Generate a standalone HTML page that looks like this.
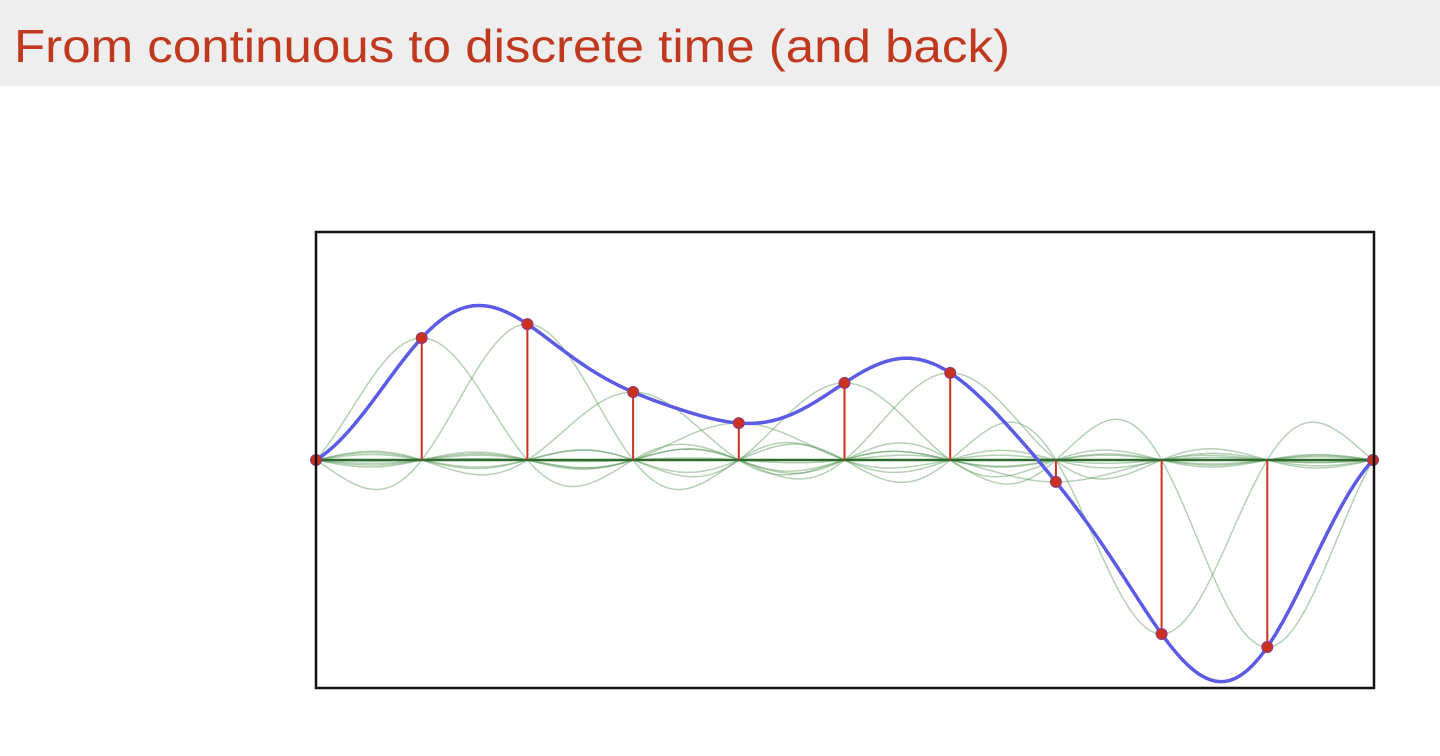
<!DOCTYPE html>
<html><head><meta charset="utf-8"><style>
html,body{margin:0;padding:0;background:#fff;width:1440px;height:756px;overflow:hidden}
</style></head><body>
<svg id="chart" width="1440" height="756" xmlns="http://www.w3.org/2000/svg">
<rect x="0" y="0" width="1440" height="86" fill="#eeeeee"/>
<text x="14" y="62" font-family="Liberation Sans, sans-serif" font-size="46" fill="#c0391f" textLength="996" lengthAdjust="spacingAndGlyphs">From continuous to discrete time (and back)</text>
<g id="plot"></g>
<rect x="316" y="232" width="1058" height="456" fill="none" stroke="#111" stroke-width="2.5"/>
</svg>
<script>
const sampleIndex = [0,1,2,3,4,5,6,7,8,9,10];
const sampleValues = [0, 0.535, 0.596, 0.298, 0.162, 0.338, 0.382, -0.096, -0.763, -0.820, 0];

const X0 = 316, X1 = 1373, Y0 = 460, YU = 228;
const N = sampleIndex.length - 1;
function xs(t){ return X0 + (X1 - X0) * t / N; }
function ys(v){ return Y0 - v * YU; }
function sinc(x){ return x === 0 ? 1 : Math.sin(Math.PI*x)/(Math.PI*x); }
const NS = 'http://www.w3.org/2000/svg';
const g = document.getElementById('plot');
function mk(tag, attrs){ const e = document.createElementNS(NS, tag); for (const k in attrs) e.setAttribute(k, attrs[k]); g.appendChild(e); return e; }

// component sincs
sampleIndex.forEach((n, i) => {
  const v = sampleValues[i];
  let d = '';
  for (let s = 0; s <= 600; s++) {
    const t = N * s / 600;
    d += (s ? 'L' : 'M') + xs(t).toFixed(1) + ' ' + ys(v * sinc(t - n)).toFixed(1);
  }
  const p = mk('path', {d: d, fill: 'none', stroke: '#5a9a5a', 'stroke-opacity': '0.45', 'stroke-width': '1.5'});
  
  
});
// baseline
const bl = mk('line', {x1: X0, x2: X1, y1: Y0, y2: Y0, stroke: '#2f6a2f', 'stroke-width': '2.5'});


// stems
sampleIndex.forEach((n, i) => {
  const l = mk('line', {x1: xs(n), x2: xs(n), y1: Y0, y2: ys(sampleValues[i]), stroke: '#c8321e', 'stroke-width': '2'});
  
  
});
// reconstructed curve
let d = '';
for (let s = 0; s <= 1000; s++) {
  const t = N * s / 1000;
  let y = 0;
  sampleIndex.forEach((n, i) => { y += sampleValues[i] * sinc(t - n); });
  d += (s ? 'L' : 'M') + xs(t).toFixed(1) + ' ' + ys(y).toFixed(1);
}
const c = mk('path', {d: d, fill: 'none', stroke: '#5b5be6', 'stroke-width': '3.5'});


// sample dots
sampleIndex.forEach((n, i) => {
  const e = mk('circle', {cx: xs(n), cy: ys(sampleValues[i]), r: 5.5, fill: '#c8321e', stroke: '#8a3a8a', 'stroke-width': '1'});
  
  
});
</script>
</body></html>
